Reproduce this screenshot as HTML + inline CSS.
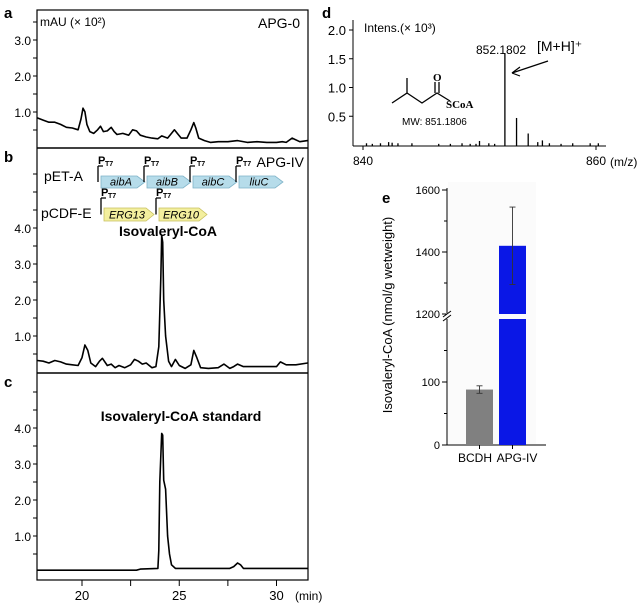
<!DOCTYPE html>
<html><head><meta charset="utf-8"><style>
body{margin:0;background:#fff;}
svg{display:block;font-family:"Liberation Sans",Arial,sans-serif;}
</style></head><body>
<svg id="fig" width="638" height="605" viewBox="0 0 638 605">
<g id="left"></g>
<g id="genes">
  <text x="44" y="181" font-size="14">pET-A</text>
  <text x="41" y="218" font-size="14">pCDF-E</text>
</g>
<g id="right"></g>
</svg>
<script>
// ---------- Chromatogram data ----------
const xTicks = [20, 25, 30];
const traceA_t = [17.7,18.0,18.3,18.6,18.9,19.2,19.5,19.8,19.95,20.05,20.15,20.25,20.4,20.6,20.8,20.95,21.1,21.3,21.5,21.65,21.8,22.1,22.4,22.6,22.8,23.0,23.3,23.6,23.9,24.1,24.4,24.6,24.75,24.9,25.1,25.4,25.6,25.75,25.85,26.0,26.3,26.6,27.0,27.5,28.0,28.5,29.0,29.5,30.0,30.3,30.5,30.8,31.2,31.6];
const traceA_v = [0.78,0.72,0.66,0.66,0.6,0.52,0.5,0.45,0.75,1.05,0.95,0.6,0.4,0.35,0.45,0.55,0.4,0.42,0.52,0.4,0.32,0.35,0.3,0.45,0.42,0.3,0.25,0.22,0.2,0.28,0.22,0.35,0.45,0.35,0.22,0.22,0.45,0.65,0.5,0.22,0.15,0.1,0.12,0.12,0.15,0.1,0.12,0.1,0.1,0.12,0.1,0.22,0.12,0.15];
const traceB_t = [17.7,18.0,18.3,18.6,18.9,19.2,19.5,19.8,20.0,20.15,20.3,20.45,20.7,20.9,21.05,21.3,21.5,21.7,21.9,22.2,22.5,22.7,22.9,23.1,23.3,23.6,23.8,23.95,24.05,24.1,24.15,24.2,24.3,24.45,24.6,24.8,25.0,25.3,25.6,25.75,25.9,26.1,26.5,27.0,27.3,27.6,27.8,28.0,28.3,29.0,29.5,30.0,30.2,30.5,31.0,31.6];
const traceB_v = [0.32,0.3,0.25,0.32,0.28,0.22,0.2,0.18,0.4,0.75,0.6,0.25,0.15,0.3,0.38,0.18,0.22,0.12,0.18,0.12,0.2,0.35,0.3,0.22,0.25,0.12,0.15,0.7,2.6,3.8,3.6,2.0,1.0,0.3,0.15,0.35,0.18,0.1,0.2,0.6,0.4,0.12,0.1,0.12,0.22,0.1,0.15,0.22,0.15,0.15,0.15,0.15,0.28,0.2,0.2,0.25];
const traceC_t = [17.7,20.0,22.8,23.0,23.9,23.95,24.0,24.1,24.15,24.2,24.3,24.4,24.5,24.6,24.8,25.5,27.6,27.8,28.0,28.15,28.3,28.6,29.5,30.5,31.6];
const traceC_v = [0.05,0.05,0.05,0.08,0.1,0.6,2.5,3.85,3.8,2.55,2.3,1.0,0.5,0.2,0.1,0.1,0.1,0.15,0.25,0.2,0.1,0.1,0.1,0.1,0.1];

const SVGNS = "http://www.w3.org/2000/svg";
function mk(tag, attrs, parent){const e=document.createElementNS(SVGNS,tag);for(const k in attrs)e.setAttribute(k,attrs[k]);parent.appendChild(e);return e;}
function txt(s,attrs,parent){const e=mk('text',attrs,parent);e.textContent=s;return e;}

const L = document.getElementById('left');
const X0=37, X1=308;
const xs = t => 82 + (t-20)*19.45;
const panels = [
  {name:'panel-a', top:10, bottom:148, zero:146, ticks:[1,2,3], t:traceA_t, v:traceA_v},
  {name:'panel-b', top:148, bottom:373, zero:372, ticks:[1,2,3,4], t:traceB_t, v:traceB_v},
  {name:'panel-c', top:373, bottom:580, zero:572, ticks:[1,2,3,4], t:traceC_t, v:traceC_v}
];
const frame = mk('rect',{x:X0,y:10,width:X1-X0,height:570,fill:'none',stroke:'#000','stroke-width':1.2},L);


panels.forEach((p,i)=>{
  const g = mk('g',{},L);
  
  
  if(i>0){ const d=mk('line',{x1:X0,x2:X1,y1:p.top,y2:p.top,stroke:'#000','stroke-width':1.5},g);
      }
  const ys = v => p.zero - v*36;
  for(let v=0.5; ys(v)>p.top+8; v+=0.5){
    const tk=mk('line',{x1:X0-4,x2:X0,y1:ys(v)+ (p.zero===146?2:0),y2:ys(v)+(p.zero===146?2:0),stroke:'#000'},g);
     
  }
  p.ticks.forEach(v=>{
    const lb=txt(v.toFixed(1),{x:X0-6,y:ys(v)+5+(p.zero===146?2:0),'font-size':12,'text-anchor':'end'},g);
     
  });
  const pts = p.t.map((t,j)=>xs(t).toFixed(1)+','+ys(p.v[j]).toFixed(1)).join(' ');
  const pl = mk('polyline',{points:pts,fill:'none',stroke:'#000','stroke-width':1.6,'stroke-linejoin':'round'},g);
  
  
});
xTicks.forEach(t=>{
  const tk=mk('line',{x1:xs(t),x2:xs(t),y1:580,y2:586,stroke:'#000'},L);
   
  const lb=txt(String(t),{x:xs(t),y:600,'font-size':13,'text-anchor':'middle'},L);
   
  const t2=t+2.5; if(xs(t2)<X1){const m=mk('line',{x1:xs(t2),x2:xs(t2),y1:580,y2:586,stroke:'#000'},L);
   }
});
const xu=txt('(min)',{x:295,y:600,'font-size':12},L);
 
[['a',4,18],['b',4,162],['c',4,387]].forEach(a=>{
  const e=txt(a[0],{x:a[1],y:a[2],'font-size':15,'font-weight':'bold'},L);
   
});
const u1=txt('mAU (× 10²)',{x:40,y:26,'font-size':12},L);
 
const n0=txt('APG-0',{x:300,y:28,'font-size':14,'text-anchor':'end'},L);
 
const n4=txt('APG-IV',{x:304,y:167,'font-size':14,'text-anchor':'end'},L);
 
const pk=txt('Isovaleryl-CoA',{x:168,y:236,'font-size':14,'font-weight':'bold','text-anchor':'middle'},L);
 
const sd=txt('Isovaleryl-CoA standard',{x:181,y:421,'font-size':14,'font-weight':'bold','text-anchor':'middle'},L);
 

const G=document.getElementById('genes');
function gene(x,y,w,h,label,fill,stroke){
  const g=mk('g',{},G);
  
  
  mk('path',{d:`M${x-3} ${y-10} L${x-3} ${y+h/2} M${x-3} ${y-10} L${x+2} ${y-10}`,stroke:'#000','stroke-width':1.3,fill:'none'},g);
  txt('P',{x:x-3,y:y-12,'font-size':11,'font-weight':'bold'},g);
  txt('T7',{x:x+4,y:y-10,'font-size':7,'font-weight':'bold'},g);
  mk('polygon',{points:`${x},${y} ${x+w-8},${y} ${x+w},${y+h/2} ${x+w-8},${y+h} ${x},${y+h}`,fill:fill,stroke:stroke,'stroke-width':0.8},g);
  txt(label,{x:x+w/2-2,y:y+h-2.5,'font-size':11,'font-style':'italic','text-anchor':'middle'},g);
}
gene(101,176,44,12,'aibA','#b6dcea','#7fb3c8');
gene(147,176,44,12,'aibB','#b6dcea','#7fb3c8');
gene(193,176,44,12,'aibC','#b6dcea','#7fb3c8');
gene(239,176,44,12,'liuC','#b6dcea','#7fb3c8');
gene(104,208,50,13,'ERG13','#f3ef9e','#c8c060');
gene(159,208,48,13,'ERG10','#f3ef9e','#c8c060');

// ---------- MS panel d ----------
const msMz = [840.3,840.8,841.5,842.2,842.5,843,844.2,846.5,847.5,848.5,849.2,849.7,850,850.8,851.3,852.18,853.18,854.18,855.0,855.4,856,857,858,859.5,860.2];
const msInt = [0.03,0.02,0.03,0.05,0.04,0.03,0.03,0.02,0.02,0.03,0.02,0.02,0.07,0.03,0.02,1.6,0.47,0.2,0.05,0.08,0.03,0.02,0.03,0.03,0.03];
const msYTicks = [0.5,1.0,1.5,2.0];
const R=document.getElementById('right');
const mx = m => 363 + (m-840)*11.65;
const my = v => 145 - v*57.5;
const gd=mk('g',{},R);


mk('line',{x1:353,x2:353,y1:20,y2:146,stroke:'#000'},gd);
mk('line',{x1:353,x2:606,y1:146,y2:146,stroke:'#000'},gd);
msYTicks.forEach(v=>{
  const t=mk('line',{x1:349,x2:353,y1:my(v),y2:my(v),stroke:'#000'},gd);
   
  const l=txt(v.toFixed(1),{x:346,y:my(v)+5,'font-size':13,'text-anchor':'end'},gd);
   
});
[840,860].forEach(m=>{
  const t=mk('line',{x1:mx(m),x2:mx(m),y1:146,y2:150,stroke:'#000'},gd);
   
  const l=txt(String(m),{x:mx(m),y:165,'font-size':12,'text-anchor':'middle'},gd);
   
});
msMz.forEach((m,i)=>{
  const b=mk('line',{x1:mx(m),x2:mx(m),y1:146,y2:my(msInt[i]),stroke:'#000','stroke-width':1.3},gd);
   
});
[['d',322,18,15,'bold','panel-letter-d'],['Intens.(× 10³)',364,32,12,'normal','ms-y-unit'],['852.1802',476,54,12,'normal','peak-mz-label'],['[M+H]⁺',537,51,14,'normal','ion-label'],['(m/z)',610,166,12,'normal','ms-x-unit'],['MW: 851.1806',402,125,10,'normal','mw-label']].forEach(a=>{
  const e=txt(a[0],{x:a[1],y:a[2],'font-size':a[3],'font-weight':a[4]},gd);
   
});
const arr=mk('g',{},gd);
 
mk('line',{x1:548,x2:512,y1:61,y2:73,stroke:'#000','stroke-width':1.2},arr);
mk('path',{d:'M512 73 L520 67 M512 73 L520 76',stroke:'#000','stroke-width':1.2,fill:'none'},arr);
const mol=mk('g',{},gd);
 
mk('polyline',{points:'392,103 407,93 407,78 M407,93',fill:'none',stroke:'#000','stroke-width':1.3},mol);
mk('polyline',{points:'407,93 422,103 437,93 450,101',fill:'none',stroke:'#000','stroke-width':1.3},mol);
mk('line',{x1:435,x2:435,y1:93,y2:82,stroke:'#000','stroke-width':1.3},mol);
mk('line',{x1:439,x2:439,y1:93,y2:82,stroke:'#000','stroke-width':1.3},mol);
txt('O',{x:433,y:81,'font-size':11,'font-weight':'bold','font-family':'Liberation Serif'},mol);
txt('SCoA',{x:446,y:108,'font-size':11,'font-weight':'bold','font-family':'Liberation Serif'},mol);

// ---------- Bar panel e ----------
const barCats = ['BCDH','APG-IV'];
const barVals = [88, 1420];
const barErr = [6, 125];
const barColors = ['#808080','#0a17e6'];
const lowTicks = [0,100];
const highTicks = [1200,1400,1600];
const ge=mk('g',{},R);


mk('rect',{x:448,y:182,width:88,height:262,fill:'#fbfbfb'},ge);
const yLow = v => 445 - v*0.63;
const yHigh = v => 314 - (v-1200)*0.31;
const yv = v => v<=200 ? yLow(v) : yHigh(v);
mk('line',{x1:447,x2:447,y1:445,y2:319,stroke:'#000'},ge);
mk('line',{x1:447,x2:447,y1:313,y2:188,stroke:'#000'},ge);
mk('path',{d:'M443 321 L451 315 M443 317 L451 311',stroke:'#000',fill:'none'},ge);
mk('line',{x1:447,x2:546,y1:445,y2:445,stroke:'#000'},ge);
[50,150].forEach(v=>mk('line',{x1:444,x2:447,y1:yLow(v),y2:yLow(v),stroke:'#000'},ge));
[1300,1500].forEach(v=>mk('line',{x1:444,x2:447,y1:yHigh(v),y2:yHigh(v),stroke:'#000'},ge));
lowTicks.forEach(v=>{
  const t=mk('line',{x1:442,x2:447,y1:yLow(v),y2:yLow(v),stroke:'#000'},ge);
   
  const l=txt(String(v),{x:440,y:yLow(v)+4,'font-size':11,'text-anchor':'end'},ge);
   
});
highTicks.forEach(v=>{
  const t=mk('line',{x1:442,x2:447,y1:yHigh(v),y2:yHigh(v),stroke:'#000'},ge);
   
  const l=txt(String(v),{x:440,y:yHigh(v)+4,'font-size':11,'text-anchor':'end'},ge);
   
});
const labelX = [475, 517];
barCats.forEach((c,i)=>{
  const x=466+i*33, w=27;
  const top=yv(barVals[i]);
  if(barVals[i]>200){
    const b1=mk('rect',{x:x,y:319,width:w,height:445-319,fill:barColors[i]},ge);
     
    const b2=mk('rect',{x:x,y:top,width:w,height:314-top,fill:barColors[i]},ge);
     
  } else {
    const b=mk('rect',{x:x,y:top,width:w,height:445-top,fill:barColors[i]},ge);
     
  }
  const e1=yv(barVals[i]+barErr[i]), e2=yv(barVals[i]-barErr[i]);
  const eb=mk('path',{d:`M${x+w/2} ${e1} L${x+w/2} ${e2} M${x+w/2-3} ${e1} L${x+w/2+3} ${e1} M${x+w/2-3} ${e2} L${x+w/2+3} ${e2}`,stroke:'#333','stroke-width':0.9,fill:'none'},ge);
   
  mk('line',{x1:x+w/2,x2:x+w/2,y1:445,y2:449,stroke:'#000'},ge);
  const l=txt(c,{x:labelX[i],y:462,'font-size':12,'text-anchor':'middle'},ge);
   
});
const yt=txt('Isovaleryl-CoA (nmol/g wetweight)',{x:0,y:0,'font-size':13,'text-anchor':'middle',transform:'translate(392,315) rotate(-90)'},ge);
 
const le=txt('e',{x:382,y:203,'font-size':15,'font-weight':'bold'},ge);
 
</script>
</body></html>
